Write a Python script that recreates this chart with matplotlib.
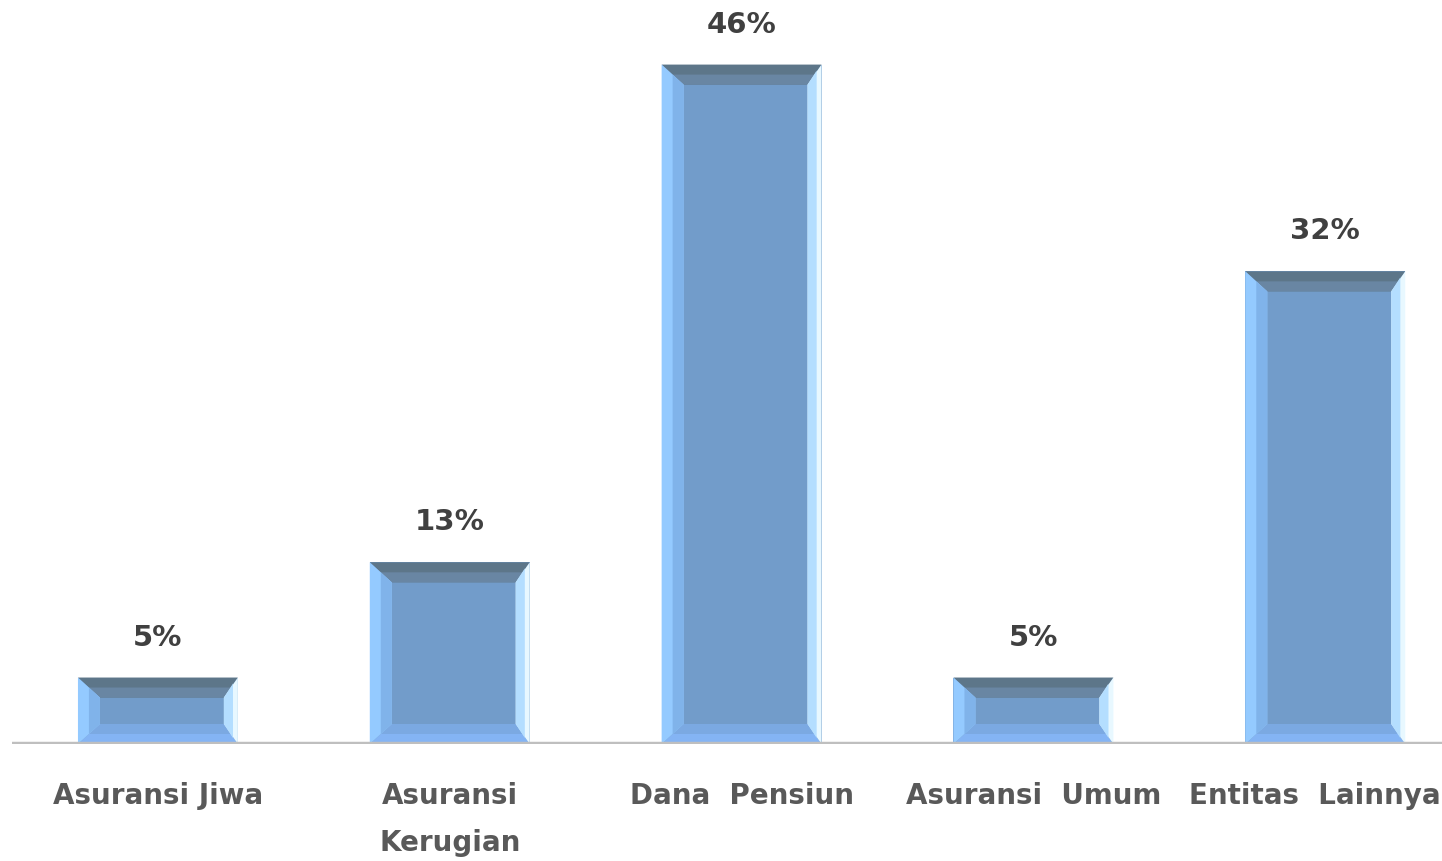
#!/usr/bin/env python3
"""
Bevelled bar chart: share of entities by type
"""

import matplotlib.pyplot as plt
from matplotlib.patches import Polygon
from matplotlib.transforms import ScaledTranslation

categories = ['Asuransi Jiwa', 'Asuransi\nKerugian', 'Dana  Pensiun',
              'Asuransi  Umum', 'Entitas  Lainnya']
values = [4.5, 12.3, 46.0, 4.5, 32.0]
labels = ['5%', '13%', '46%', '5%', '32%']

fig = plt.figure(figsize=(14.42, 8.62), dpi=100)
ax = fig.add_axes([12 / 1442, 117 / 862, 1430 / 1442, 745 / 862])

bar_w = 0.548
ax.set_xlim(-0.5, 4.4)
ax.set_ylim(0, 50.44)

# bevel sizes in data units (pixels -> data)
px_x = 1 / 292.0
px_y = 1 / 14.77
bl, br = 22 * px_x, 14 * px_x
bt, bb = 20 * px_y, 20 * px_y

face = '#729cca'
for i, v in enumerate(values):
    x0, x1 = i - bar_w / 2, i + bar_w / 2
    y0, y1 = 0, v
    ix0, ix1 = x0 + bl, x1 - br
    iy0, iy1 = y0 + bb, y1 - bt
    ax.add_patch(Polygon([(x0, y0), (x1, y0), (x1, y1), (x0, y1)],
                         closed=True, fc=face, ec='none'))
    # top bevel (dark)
    ax.add_patch(Polygon([(x0, y1), (x1, y1), (ix1, iy1), (ix0, iy1)],
                         closed=True, fc='#5d7689', ec='none'))
    ax.add_patch(Polygon([(x0 + bl * 0.5, y1 - bt * 0.5), (x1 - br * 0.5, y1 - bt * 0.5),
                          (ix1, iy1), (ix0, iy1)],
                         closed=True, fc='#6986a3', ec='none'))
    # bottom bevel (light blue)
    ax.add_patch(Polygon([(x0, y0), (x1, y0), (ix1, iy0), (ix0, iy0)],
                         closed=True, fc='#84b4f4', ec='none'))
    ax.add_patch(Polygon([(x0 + bl * 0.5, y0 + bb * 0.5), (x1 - br * 0.5, y0 + bb * 0.5),
                          (ix1, iy0), (ix0, iy0)],
                         closed=True, fc='#7ba9e2', ec='none'))
    # left bevel
    ax.add_patch(Polygon([(x0, y0), (ix0, iy0), (ix0, iy1), (x0, y1)],
                         closed=True, fc='#94caff', ec='none'))
    ax.add_patch(Polygon([(x0 + bl * 0.5, y0 + bb * 0.5), (ix0, iy0), (ix0, iy1),
                          (x0 + bl * 0.5, y1 - bt * 0.5)],
                         closed=True, fc='#80b3ea', ec='none'))
    # right bevel (bright)
    ax.add_patch(Polygon([(x1, y0), (ix1, iy0), (ix1, iy1), (x1, y1)],
                         closed=True, fc='#e8f8ff', ec='none'))
    ax.add_patch(Polygon([(x1 - br * 0.35, y0 + bb * 0.3), (ix1, iy0), (ix1, iy1),
                          (x1 - br * 0.35, y1 - bt * 0.3)],
                         closed=True, fc='#b4deff', ec='none'))
    ax.text(i, v + 27 * px_y, labels[i], ha='center', va='bottom',
            fontsize=21, fontweight='bold', color='#404040', family='DejaVu Sans')

ax.axhline(0, color='#bfbfbf', lw=3.2, zorder=5)

ax.set_xticks(range(len(categories)))
ax.set_xticklabels(categories, fontsize=20, fontweight='bold', color='#595959',
                   linespacing=1.85, va='top')
ax.tick_params(axis='x', length=0, pad=27)
# last label sits against the right edge, as in the source
last = ax.get_xticklabels()[-1]
last.set_transform(last.get_transform() + ScaledTranslation(-10 / 100, 0, fig.dpi_scale_trans))
ax.set_yticks([])
for s in ax.spines.values():
    s.set_visible(False)

plt.savefig('out.png', dpi=100)
print("Plot saved to out.png")
